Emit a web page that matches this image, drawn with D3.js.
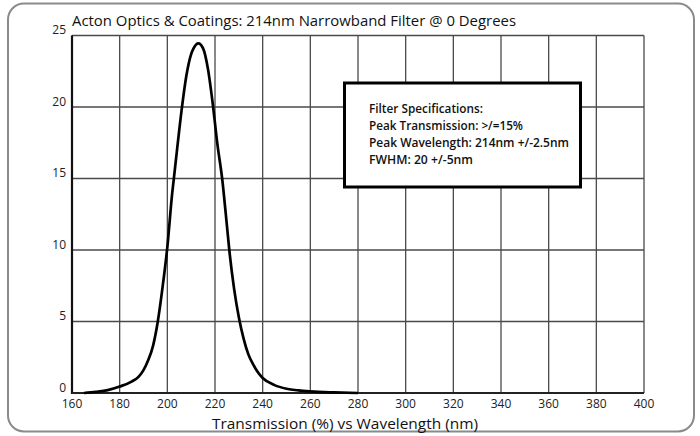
<!DOCTYPE html>
<html><head><meta charset="utf-8">
<script src="https://cdn.jsdelivr.net/npm/d3@7"></script>
<style>body{margin:0;background:#fff}svg{display:block}</style>
</head><body><svg id="c" width="700" height="436"></svg>
<script>
const wavelengths = [165,170,175,180,185,188,190,192,194,196,198,200,202,203,204,206,208,210,211,213,215,217,219,221,223,225,226,228,230,232,234,236,238,240,245,250,255,260,270,280];
const transmission = [0,0.08,0.2,0.45,0.8,1.15,1.6,2.3,3.3,5.0,7.4,10.2,13.9,15.4,16.9,19.8,22.2,23.7,24.1,24.45,24.1,22.7,20.3,17.4,15.0,11.7,10.0,7.3,5.3,3.8,2.7,2.0,1.45,1.05,0.55,0.3,0.18,0.11,0.04,0];
const xTicks = [160,180,200,220,240,260,280,300,320,340,360,380,400];
const yTicks = [0,5,10,15,20,25];
const title = "Acton Optics & Coatings: 214nm Narrowband Filter @ 0 Degrees";
const xTitle = "Transmission (%) vs Wavelength (nm)";
const specLines = ["Filter Specifications:","Peak Transmission: >/=15%","Peak Wavelength: 214nm +/-2.5nm","FWHM: 20 +/-5nm"];

const svg = d3.select("#c");
const font = "'Open Sans', 'Noto Sans', sans-serif";
svg.append("rect").attr("x",8).attr("y",3.5).attr("width",686).attr("height",428).attr("rx",16)
  .attr("fill","#fff").attr("stroke","#8a8a8a").attr("stroke-width",2);

const x = d3.scaleLinear().domain([160,400]).range([72,644]);
const y = d3.scaleLinear().domain([0,25]).range([393,35.5]);

const g = svg.append("g");
// grid
g.selectAll(".vg").data(xTicks).join("line").attr("x1",d=>x(d)).attr("x2",d=>x(d))
  .attr("y1",y(25)).attr("y2",y(0)).attr("stroke","#4a4a4a").attr("stroke-width",1.3);
g.selectAll(".hg").data(yTicks).join("line").attr("x1",x(160)).attr("x2",x(400))
  .attr("y1",d=>y(d)).attr("y2",d=>y(d)).attr("stroke","#4a4a4a").attr("stroke-width",1.3);
g.append("line").attr("x1",x(160)).attr("x2",x(160)).attr("y1",y(25)).attr("y2",y(0)+1).attr("stroke","#111").attr("stroke-width",2.2);
g.append("line").attr("x1",x(160)).attr("x2",x(400)).attr("y1",y(0)).attr("y2",y(0)).attr("stroke","#222").attr("stroke-width",1.8);

// tick labels
g.selectAll(".xl").data(xTicks).join("text").attr("x",d=>x(d)).attr("y",408)
  .attr("text-anchor","middle").attr("font-family",font).attr("font-size",12).attr("font-weight",500).attr("fill","#222").text(d=>d);
g.selectAll(".yl").data(yTicks).join("text").attr("x",66).attr("y",d=>y(d)-1.5)
  .attr("text-anchor","end").attr("font-family",font).attr("font-size",12).attr("font-weight",500).attr("fill","#222").text(d=>d);

// curve
const line = d3.line().x((d,i)=>x(wavelengths[i])).y(d=>y(d)).curve(d3.curveMonotoneX);
g.append("path").attr("d",line(transmission)).attr("fill","none").attr("stroke","#000").attr("stroke-width",2.7)
  .attr("stroke-linejoin","round");

// title
svg.append("text").attr("x",72).attr("y",26).attr("font-family",font).attr("font-size",15).attr("font-weight",500).attr("fill","#111")
  .attr("textLength",444).attr("lengthAdjust","spacingAndGlyphs").text(title);
svg.append("text").attr("x",212).attr("y",428.5).attr("font-family",font).attr("font-size",15).attr("fill","#111")
  .attr("textLength",266).attr("lengthAdjust","spacingAndGlyphs").text(xTitle);

// spec box
svg.append("rect").attr("x",344.5).attr("y",83).attr("width",236).attr("height",104)
  .attr("fill","#fff").attr("stroke","#000").attr("stroke-width",3);
const lens = [114,154,200,104];
specLines.forEach((s,i)=>{
  svg.append("text").attr("x",369).attr("y",112.5+i*17).attr("font-family",font).attr("font-size",13).attr("font-weight",600)
    .attr("fill","#111").attr("textLength",lens[i]).attr("lengthAdjust","spacingAndGlyphs").text(s);
});
</script></body></html>
